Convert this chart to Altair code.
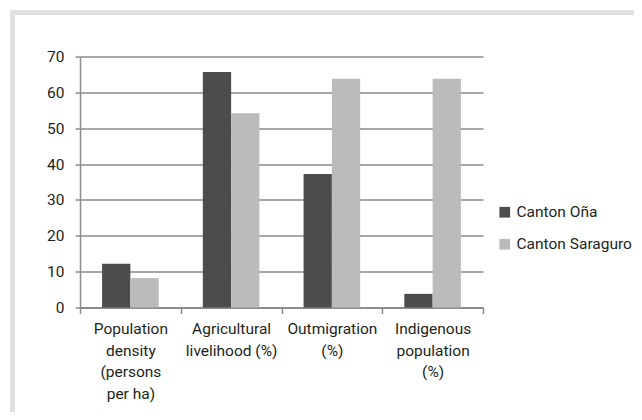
import altair as alt
import pandas as pd

categories = [
    "Population\ndensity\n(persons\nper ha)",
    "Agricultural\nlivelihood (%)",
    "Outmigration\n(%)",
    "Indigenous\npopulation\n(%)",
]
series = ["Canton Oña", "Canton Saraguro"]
ona = [12.2, 65.7, 37.2, 3.8]
saraguro = [8.2, 54.2, 63.8, 63.8]
y_ticks = [0, 10, 20, 30, 40, 50, 60, 70]

rows = []
for c, a, b in zip(categories, ona, saraguro):
    rows.append({"category": c, "series": series[0], "value": a})
    rows.append({"category": c, "series": series[1], "value": b})
df = pd.DataFrame(rows)

FONT = "Roboto, Liberation Sans Narrow, sans-serif"
TXT = "#231f20"

bars = alt.Chart(df).mark_bar().encode(
    x=alt.X("category:N", sort=categories,
            scale=alt.Scale(paddingInner=0, paddingOuter=0),
            axis=alt.Axis(title=None, labelAngle=0, tickBand="extent",
                          labelExpr="split(datum.label, '\\n')",
                          labelLineHeight=21.5, labelBaseline="top",
                          labelPadding=8, tickSize=6, grid=False,
                          domainColor="#8c8c8c", tickColor="#8c8c8c",
                          domainWidth=2, tickWidth=1.5)),
    xOffset=alt.XOffset("series:N", sort=series,
                        scale=alt.Scale(paddingOuter=0.78, paddingInner=0)),
    y=alt.Y("value:Q", scale=alt.Scale(domain=[0, 70], nice=False),
            axis=alt.Axis(title=None, values=y_ticks, tickSize=5,
                          labelPadding=11, grid=True, gridColor="#8a8a8a",
                          gridWidth=1.5, domainColor="#8c8c8c",
                          tickColor="#8c8c8c", domainWidth=1.5, tickWidth=1.5)),
    color=alt.Color("series:N", sort=series,
                    scale=alt.Scale(domain=series, range=["#4b4c4e", "#babbbd"]),
                    legend=alt.Legend(title=None, orient="none", legendX=417,
                                      legendY=148, symbolType="square",
                                      symbolSize=115, symbolStrokeWidth=0,
                                      labelFontSize=15.5, rowPadding=15,
                                      labelOffset=4, padding=0)),
)

frame = alt.Chart(alt.Data(values=[{}])).mark_rect(
    fill=None, stroke="#e0e0e1", strokeWidth=5
).encode(
    x=alt.value(-67.5), x2=alt.value(720),
    y=alt.value(-44), y2=alt.value(520),
)

chart = alt.layer(frame, bars).properties(
    width=403, height=251,
    autosize=alt.AutoSizeParams(type="none"),
    padding={"left": 72, "top": 48.5, "right": 151, "bottom": 104},
    background="white",
).configure_view(stroke=None).configure_axis(
    labelFont=FONT, labelFontSize=15.5, labelColor=TXT,
).configure_legend(
    labelFont=FONT, labelColor=TXT,
)

chart.save("out.html", embed_options={"renderer": "svg", "actions": False})
